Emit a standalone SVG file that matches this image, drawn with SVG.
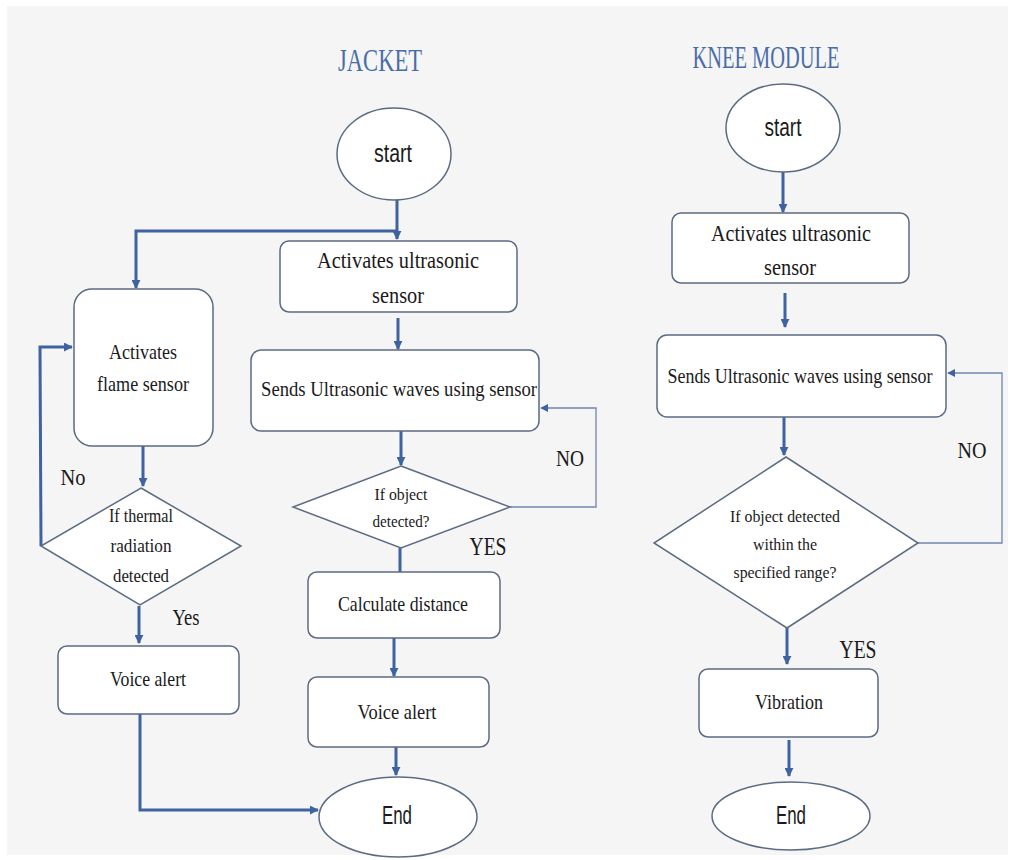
<svg xmlns="http://www.w3.org/2000/svg" width="1014" height="860" viewBox="0 0 1014 860">
<style>
.box{fill:#ffffff;stroke:#5b6b82;stroke-width:1.5}
.t{font-family:"Liberation Serif",serif;fill:#1a1a1a;text-anchor:middle}
.s{font-family:"Liberation Sans Narrow","Liberation Sans",sans-serif;fill:#1a1a1a;text-anchor:middle}
.title{font-family:"Liberation Serif",serif;fill:#4a6da8;text-anchor:middle}
.c{fill:none;stroke:#3f62a0;stroke-width:3}
.cl{fill:none;stroke:#6f86ad;stroke-width:1.3}
</style>
<defs>
<marker id="ah" viewBox="0 0 10 10" refX="9" refY="5" markerWidth="3" markerHeight="3" orient="auto" markerUnits="strokeWidth">
<path d="M0,0 L10,5 L0,10 z" fill="#3f62a0"/>
</marker>
<marker id="ahl" viewBox="0 0 10 10" refX="9" refY="5" markerWidth="6" markerHeight="6" orient="auto" markerUnits="strokeWidth">
<path d="M0,0 L10,5 L0,10 z" fill="#3f62a0"/>
</marker>
</defs>
<rect x="0" y="0" width="1014" height="860" fill="#ffffff"/>
<rect x="7" y="6" width="1001" height="849" fill="#f5f5f5"/>

<text class="title" x="380" y="71" font-size="31" textLength="84" lengthAdjust="spacingAndGlyphs">JACKET</text>
<text class="title" x="766" y="68" font-size="31" textLength="147" lengthAdjust="spacingAndGlyphs">KNEE MODULE</text>

<g id="connectors">
<path class="c" d="M397,200 L397,239" marker-end="url(#ah)"/>
<path class="c" d="M397,231 L136,231 L136,288" marker-end="url(#ah)"/>
<path class="c" d="M398,318 L398,349" marker-end="url(#ah)"/>
<path class="c" d="M401,431 L401,465" marker-end="url(#ah)"/>
<path class="c" stroke-width="4" d="M143,446 L143,486" marker-end="url(#ah)"/>
<path class="c" stroke-width="2.5" d="M41,546 L40,347 L72,347" marker-end="url(#ah)"/>
<path class="c" d="M139,606 L139,643" marker-end="url(#ah)"/>
<path class="c" d="M140,714 L140,810 L318,810" marker-end="url(#ah)"/>
<path class="c" d="M400,548 L400,572"/>
<path class="cl" d="M510,507 L596,507 L596,408 L541,408" marker-end="url(#ahl)"/>
<path class="c" d="M394,638 L394,676" marker-end="url(#ah)"/>
<path class="c" d="M396,747 L396,775" marker-end="url(#ah)"/>
<path class="c" d="M783,170 L783,212" marker-end="url(#ah)"/>
<path class="c" d="M785,293 L785,327" marker-end="url(#ah)"/>
<path class="c" d="M784,417 L784,455" marker-end="url(#ah)"/>
<path class="cl" d="M918,543 L1002,543 L1002,373 L948,373" marker-end="url(#ahl)"/>
<path class="c" d="M787,628 L787,664" marker-end="url(#ah)"/>
<path class="c" d="M789,740 L789,776" marker-end="url(#ah)"/>
</g>

<g id="j-start"><ellipse class="box" cx="394" cy="154" rx="57" ry="46"/><text class="s" x="393" y="162" font-size="26" textLength="38" lengthAdjust="spacingAndGlyphs">start</text></g>
<g id="j-ultra"><rect class="box" x="280" y="241" width="237" height="71" rx="9"/>
<text class="t" x="398" y="268" font-size="24" textLength="162" lengthAdjust="spacingAndGlyphs">Activates ultrasonic</text>
<text class="t" x="398" y="303" font-size="24" textLength="52" lengthAdjust="spacingAndGlyphs">sensor</text></g>
<g id="j-flame"><rect class="box" x="74" y="289" width="139" height="157" rx="18"/>
<text class="t" x="143" y="359" font-size="22" textLength="68" lengthAdjust="spacingAndGlyphs">Activates</text>
<text class="t" x="143" y="391" font-size="22" textLength="92" lengthAdjust="spacingAndGlyphs">flame sensor</text></g>
<g id="j-sends"><rect class="box" x="251" y="350" width="288" height="81" rx="10"/>
<text class="t" x="399" y="396" font-size="22" textLength="276" lengthAdjust="spacingAndGlyphs">Sends Ultrasonic waves using sensor</text></g>
<g id="j-detect"><polygon class="box" points="401,466 510,507 401,548 293,507"/>
<text class="t" x="401" y="500" font-size="17" textLength="53" lengthAdjust="spacingAndGlyphs">If object</text>
<text class="t" x="401" y="527" font-size="17" textLength="57" lengthAdjust="spacingAndGlyphs">detected?</text></g>
<g id="j-thermal"><polygon class="box" points="141,488 241,546 140,605 41,546"/>
<text class="t" x="141" y="522" font-size="19" textLength="64" lengthAdjust="spacingAndGlyphs">If thermal</text>
<text class="t" x="141" y="552" font-size="19" textLength="61" lengthAdjust="spacingAndGlyphs">radiation</text>
<text class="t" x="141" y="582" font-size="19" textLength="56" lengthAdjust="spacingAndGlyphs">detected</text></g>
<g id="j-voice1"><rect class="box" x="58" y="646" width="181" height="68" rx="9"/>
<text class="t" x="148" y="686" font-size="21" textLength="76" lengthAdjust="spacingAndGlyphs">Voice alert</text></g>
<g id="j-calc"><rect class="box" x="308" y="572" width="192" height="66" rx="9"/>
<text class="t" x="403" y="611" font-size="21" textLength="130" lengthAdjust="spacingAndGlyphs">Calculate distance</text></g>
<g id="j-voice2"><rect class="box" x="308" y="677" width="181" height="70" rx="9"/>
<text class="t" x="397" y="719" font-size="21" textLength="79" lengthAdjust="spacingAndGlyphs">Voice alert</text></g>
<g id="j-end"><ellipse class="box" cx="398" cy="817" rx="79" ry="40"/>
<text class="s" x="397" y="824" font-size="25" textLength="30" lengthAdjust="spacingAndGlyphs">End</text></g>

<text class="t" x="73" y="485" font-size="24" textLength="25" lengthAdjust="spacingAndGlyphs">No</text>
<text class="t" x="186" y="625" font-size="24" textLength="27" lengthAdjust="spacingAndGlyphs">Yes</text>
<text class="t" x="488" y="555" font-size="26" textLength="37" lengthAdjust="spacingAndGlyphs">YES</text>
<text class="t" x="570" y="466" font-size="23" textLength="28" lengthAdjust="spacingAndGlyphs">NO</text>

<g id="k-start"><ellipse class="box" cx="783" cy="128" rx="57" ry="44"/><text class="s" x="783" y="136" font-size="26" textLength="37" lengthAdjust="spacingAndGlyphs">start</text></g>
<g id="k-ultra"><rect class="box" x="672" y="213" width="237" height="70" rx="9"/>
<text class="t" x="791" y="241" font-size="24" textLength="160" lengthAdjust="spacingAndGlyphs">Activates ultrasonic</text>
<text class="t" x="790" y="275" font-size="24" textLength="52" lengthAdjust="spacingAndGlyphs">sensor</text></g>
<g id="k-sends"><rect class="box" x="657" y="335" width="289" height="82" rx="10"/>
<text class="t" x="800" y="383" font-size="22" textLength="265" lengthAdjust="spacingAndGlyphs">Sends Ultrasonic waves using sensor</text></g>
<g id="k-detect"><polygon class="box" points="786,457 918,543 787,628 654,543"/>
<text class="t" x="785" y="522" font-size="17" textLength="110" lengthAdjust="spacingAndGlyphs">If object detected</text>
<text class="t" x="785" y="550" font-size="17" textLength="64" lengthAdjust="spacingAndGlyphs">within the</text>
<text class="t" x="785" y="578" font-size="17" textLength="103" lengthAdjust="spacingAndGlyphs">specified range?</text></g>
<g id="k-vib"><rect class="box" x="699" y="669" width="179" height="68" rx="9"/>
<text class="t" x="789" y="709" font-size="22" textLength="68" lengthAdjust="spacingAndGlyphs">Vibration</text></g>
<g id="k-end"><ellipse class="box" cx="791" cy="816" rx="79" ry="34"/>
<text class="s" x="791" y="824" font-size="25" textLength="30" lengthAdjust="spacingAndGlyphs">End</text></g>

<text class="t" x="972" y="458" font-size="23" textLength="29" lengthAdjust="spacingAndGlyphs">NO</text>
<text class="t" x="858" y="658" font-size="26" textLength="37" lengthAdjust="spacingAndGlyphs">YES</text>
</svg>
